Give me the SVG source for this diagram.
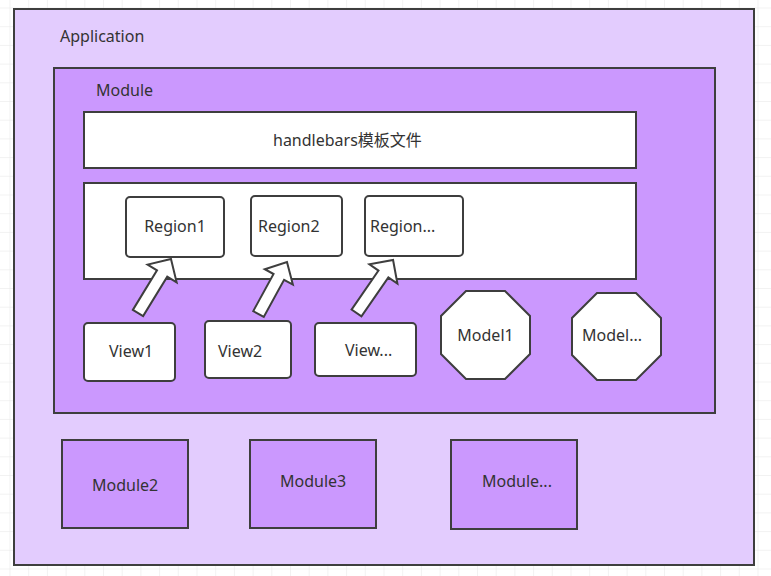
<svg xmlns="http://www.w3.org/2000/svg" width="771" height="576" viewBox="0 0 771 576">
<defs>
<pattern id="grid" x="9.5" y="7.5" width="18.7" height="18.7" patternUnits="userSpaceOnUse">
<path d="M0,0 H18.7 M0,0 V18.7" fill="none" stroke="#e6e6e6" stroke-width="1"/>
</pattern>
</defs>
<style>
.box{stroke:#3e3e3e;stroke-width:2}
.app{fill:#e3ccfe}
.mod{fill:#cb98fe}
.white{fill:#ffffff}
.arrow{fill:#ffffff;stroke:#3e3e3e;stroke-width:2;stroke-linejoin:miter}
text{font-family:"Noto Sans","Noto Sans CJK SC",sans-serif;font-size:16px;fill:#333333}
</style>
<rect width="771" height="576" fill="#ffffff"/>
<rect width="771" height="576" fill="url(#grid)"/>

<g id="application">
<rect class="box app" x="14" y="9" width="740" height="556"/>
<text x="60" y="42">Application</text>
</g>

<g id="module">
<rect class="box mod" x="54" y="68" width="661" height="345"/>
<text x="96" y="96">Module</text>
</g>

<g id="handlebars">
<rect class="box white" x="84" y="112" width="552" height="56"/>
<text x="273" y="146">handlebars模板文件</text>
</g>

<g id="regions-container">
<rect class="box white" x="84" y="183" width="552" height="96"/>
</g>

<g id="region1">
<rect class="box white" x="126" y="197" width="98" height="60" rx="4"/>
<text x="175" y="232" text-anchor="middle">Region1</text>
</g>
<g id="region2">
<rect class="box white" x="251" y="196" width="91" height="60" rx="4"/>
<text x="258" y="232">Region2</text>
</g>
<g id="region3">
<rect class="box white" x="365" y="196" width="98" height="60" rx="4"/>
<text x="370" y="232">Region...</text>
</g>

<g id="view1">
<rect class="box white" x="84" y="323" width="91" height="58" rx="4"/>
<text x="109" y="357">View1</text>
</g>
<g id="view2">
<rect class="box white" x="205" y="321" width="86" height="57" rx="4"/>
<text x="218" y="357">View2</text>
</g>
<g id="view3">
<rect class="box white" x="315" y="323" width="101" height="53" rx="4"/>
<text x="345" y="356">View...</text>
</g>

<g id="model1">
<polygon class="box white" points="466,291 505,291 530,316 530,354 505,379 466,379 441,354 441,316"/>
<text x="485.5" y="341" text-anchor="middle">Model1</text>
</g>
<g id="model2">
<polygon class="box white" points="597,293 636,293 661,318 661,355 636,380 597,380 572,355 572,318"/>
<text x="582" y="341">Model...</text>
</g>

<g id="module2">
<rect class="box mod" x="62" y="440" width="126" height="88"/>
<text x="92" y="491">Module2</text>
</g>
<g id="module3">
<rect class="box mod" x="250" y="440" width="126" height="88"/>
<text x="280" y="487">Module3</text>
</g>
<g id="module4">
<rect class="box mod" x="451" y="440" width="126" height="89"/>
<text x="482" y="487">Module...</text>
</g>

<g id="connectors">
<path class="arrow" transform="translate(138,313) rotate(-58.6)" d="M0,-6 L46.3,-6 L46.3,-17 L63.3,0 L46.3,17 L46.3,6 L0,6 Z"/>
<path class="arrow" transform="translate(258.5,314) rotate(-61.3)" d="M0,-6 L42.3,-6 L42.3,-16 L59.3,0 L42.3,16 L42.3,6 L0,6 Z"/>
<path class="arrow" transform="translate(356.5,313) rotate(-55.4)" d="M0,-6 L47.4,-6 L47.4,-17 L64.4,0 L47.4,17 L47.4,6 L0,6 Z"/>
</g>
</svg>
